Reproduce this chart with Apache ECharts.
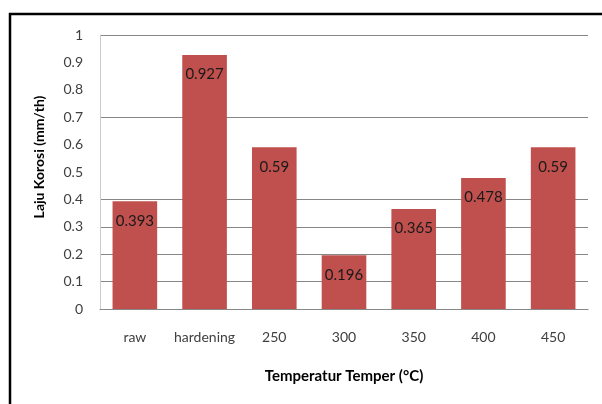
<!DOCTYPE html>
<html>
<head>
<meta charset="utf-8">
<script src="https://cdn.jsdelivr.net/npm/echarts@6/dist/echarts.min.js"></script>
<style>
  html, body { margin: 0; padding: 0; background: #fff; }
  #chart { width: 602px; height: 404px; }
</style>
</head>
<body>
<div id="chart"></div>
<script>
// Corrosion rate per treatment / tempering temperature
const categories = ['raw', 'hardening', '250', '300', '350', '400', '450'];
const corrosionRate = [0.393, 0.927, 0.59, 0.196, 0.365, 0.478, 0.59];
const yTicks = [0, 0.1, 0.2, 0.3, 0.4, 0.5, 0.6, 0.7, 0.8, 0.9, 1];
// grid lines drawn for these tick values only
const visibleGridValues = [0, 0.1, 0.2, 0.3, 0.4, 0.7, 1];

const FONT = 'Lato, "DejaVu Sans", sans-serif';
const gridColors = yTicks.map(v =>
  visibleGridValues.some(g => Math.abs(g - v) < 1e-9) ? '#878787' : 'rgba(0,0,0,0)'
);

const chart = echarts.init(document.getElementById('chart'), null, { renderer: 'canvas' });
chart.setOption({
  animation: false,
  backgroundColor: '#ffffff',
  graphic: [
    {
      type: 'polyline',
      shape: { points: [[10, 420], [10, 14], [620, 14]] },
      style: { stroke: '#000000', lineWidth: 2.5, fill: null },
      silent: true
    }
  ],
  grid: { left: 100, right: 14, top: 35, bottom: 95, containLabel: false },
  xAxis: {
    type: 'category',
    data: categories,
    name: 'Temperatur Temper (°C)',
    nameLocation: 'middle',
    nameGap: 60,
    nameTextStyle: { fontFamily: FONT, fontSize: 15, fontWeight: 'bold', color: '#000' },
    axisLine: { show: true, lineStyle: { color: '#878787', width: 1 } },
    axisTick: { show: false },
    axisLabel: { interval: 0, fontFamily: FONT, fontSize: 14, color: '#404040', margin: 21 },
    splitLine: { show: false }
  },
  yAxis: {
    type: 'value',
    min: 0,
    max: 1,
    interval: 0.1,
    name: 'Laju Korosi (mm/th)',
    nameLocation: 'middle',
    nameGap: 54,
    nameRotate: 90,
    nameTextStyle: {
      fontFamily: FONT, fontSize: 14, fontWeight: 'bold', color: '#000',
      padding: [0, 0, 0, 30]
    },
    axisLine: { show: true, lineStyle: { color: '#cccccc', width: 1 } },
    axisTick: { show: false },
    axisLabel: {
      fontFamily: FONT, fontSize: 14, color: '#404040', margin: 17,
      formatter: v => String(Math.round(v * 10) / 10)
    },
    splitLine: { show: true, lineStyle: { color: gridColors, width: 1 } }
  },
  series: [
    {
      type: 'bar',
      data: corrosionRate,
      barCategoryGap: '36%',
      itemStyle: { color: '#C0504D' },
      label: {
        show: true,
        position: 'insideTop',
        distance: 12,
        fontFamily: FONT,
        fontSize: 15,
        color: '#1a1a1a',
        formatter: p => String(p.value)
      }
    }
  ]
});
</script>
</body>
</html>
